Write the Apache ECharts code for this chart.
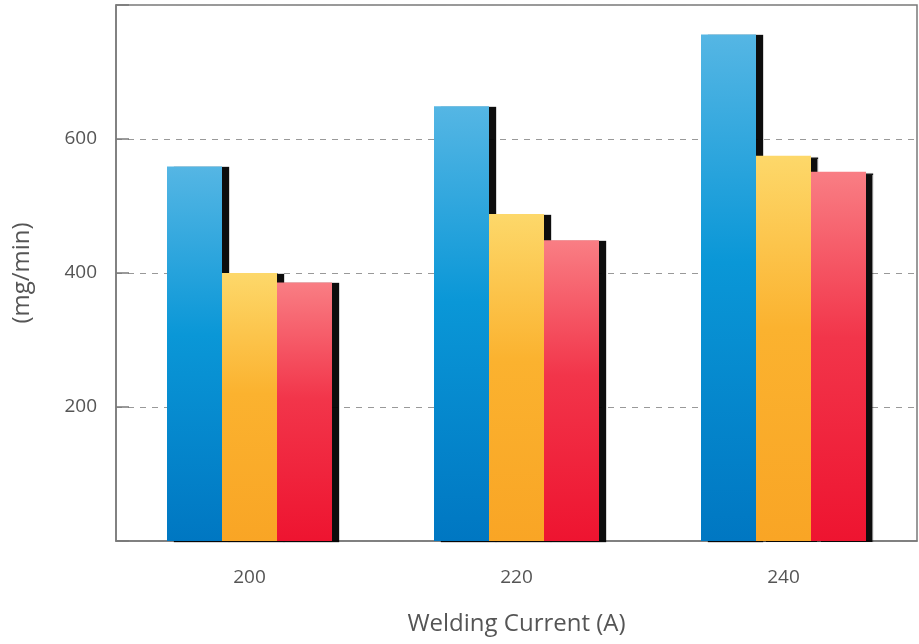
<!DOCTYPE html>
<html>
<head>
<meta charset="utf-8">
<script src="https://cdn.jsdelivr.net/npm/echarts@6/dist/echarts.min.js"></script>
<style>html,body{margin:0;padding:0;background:#fff;width:100%;height:100%;overflow:hidden;}#c{width:100vw;height:100vh;}</style>
</head>
<body>
<div id="c"></div>
<script>
const categories = ['200', '220', '240'];
const seriesA = [559, 649, 756];
const seriesB = [400, 488, 575];
const seriesC = [386, 449, 551];
const yTicks = [200, 400, 600];

const chart = echarts.init(document.getElementById('c'));
function grad(top, mid, bottom) {
  return new echarts.graphic.LinearGradient(0, 0, 0, 1, [
    {offset: 0, color: top},
    {offset: 0.45, color: mid},
    {offset: 1, color: bottom}
  ]);
}
const barStyle = (c) => ({
  color: c,
  shadowColor: 'rgba(0,0,0,0.95)',
  shadowOffsetX: 7,
  shadowOffsetY: 1,
  shadowBlur: 1
});
const axisColor = '#7a7a7a';
const font = 'Open Sans';
chart.setOption({
  animation: false,
  grid: {left: 116, top: 5, width: 801, height: 536, show: true, borderColor: axisColor, borderWidth: 1.5, backgroundColor: 'transparent'},
  xAxis: {
    type: 'category',
    data: categories,
    name: 'Welding Current (A)',
    nameLocation: 'middle',
    nameGap: 71,
    nameTextStyle: {fontFamily: font, fontSize: 24, color: '#555'},
    axisLine: {lineStyle: {color: axisColor, width: 1.5}},
    axisTick: {inside: true, length: 14, lineStyle: {color: axisColor, width: 1.5}},
    axisLabel: {fontFamily: font, fontSize: 19, color: '#555', margin: 27}
  },
  yAxis: {
    type: 'value',
    min: 0, max: 800, interval: 200,
    name: '(mg/min)',
    nameLocation: 'middle',
    nameGap: 82,
    nameTextStyle: {fontFamily: font, fontSize: 24, color: '#555'},
    axisLine: {show: true, lineStyle: {color: axisColor, width: 1.5}},
    axisTick: {show: true, inside: true, length: 13, lineStyle: {color: axisColor, width: 1.5}},
    axisLabel: {fontFamily: font, fontSize: 19, color: '#555', margin: 19,
      formatter: v => yTicks.indexOf(v) >= 0 ? String(v) : ''},
    splitLine: {show: true, lineStyle: {color: '#999', type: [6, 6], width: 1}}
  },
  series: [
    {type: 'bar', data: seriesA, barWidth: 55, barGap: '0%', itemStyle: barStyle(grad('#55b6e4', '#0a97d7', '#0077c2'))},
    {type: 'bar', data: seriesB, barWidth: 55, barGap: '0%', itemStyle: barStyle(grad('#fdd86a', '#fbb22f', '#f9a525'))},
    {type: 'bar', data: seriesC, barWidth: 55, barGap: '0%', itemStyle: barStyle(grad('#f97e84', '#f2354a', '#ee1430'))}
  ]
});
</script>
</body>
</html>
